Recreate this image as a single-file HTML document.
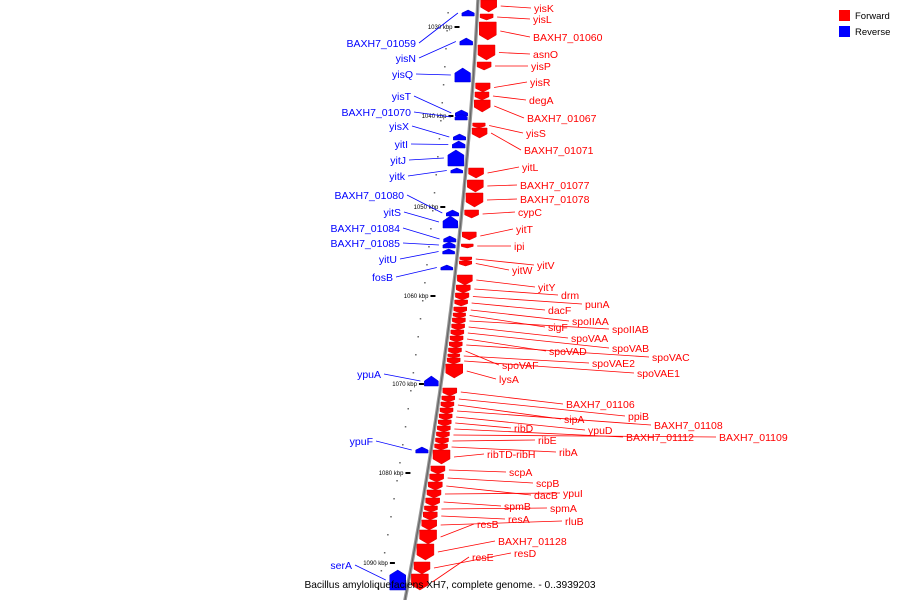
<!DOCTYPE html>
<html><head><meta charset="utf-8"><style>
html,body{margin:0;padding:0;background:#fff}
svg{display:block;font-family:"Liberation Sans","DejaVu Sans",sans-serif}
</style></head><body>
<svg id="map" width="900" height="600" viewBox="0 0 900 600">
<g id="legend">
<rect x="839" y="10" width="11" height="11" fill="#f00"/>
<text x="855" y="19" font-size="9.5" fill="#000">Forward</text>
<rect x="839" y="26" width="11" height="11" fill="#00f"/>
<text x="855" y="35" font-size="9.5" fill="#000">Reverse</text>
</g>
</svg>
<script>
// forward (red) genes
const fwdNames=["yisK","yisL","BAXH7_01060","asnO","yisP","yisR","degA","BAXH7_01067","yisS","BAXH7_01071","yitL","BAXH7_01077","BAXH7_01078","cypC","yitT","ipi","yitV","yitW","yitY","drm","punA","dacF","spoIIAA","sigF","spoIIAB","spoVAA","spoVAB","spoVAD","spoVAC","spoVAF","spoVAE2","spoVAE1","lysA","BAXH7_01106","ppiB","sipA","BAXH7_01108","ypuD","ribD","BAXH7_01112","BAXH7_01109","ribE","ribA","ribTD-ribH","scpA","scpB","dacB","ypuI","spmB","spmA","resA","rluB","resB","BAXH7_01128","resD","resE"];
const fwdStart=[0,14,22,45,62,83,92,100,123,128,168,180,193,210,232,244,257,261,275,285,293,300,307,313,318,324,330,336,342,348,354,358,364,388,396,402,408,414,420,426,432,438,444,450,466,474,482,490,498,506,512,520,530,544,562,574];
const fwdEnd=[12,20,40,60,70,92,100,112,128,138,178,192,207,218,240,248,261,266,285,293,300,306,313,318,324,330,336,342,348,354,358,364,378,396,402,408,414,420,426,432,438,444,450,464,474,482,490,498,506,512,520,530,544,560,574,590];
const fwdLabelX=[534,533,533,533,531,530,529,527,526,524,522,520,520,518,516,514,537,512,538,561,585,548,572,548,612,571,612,549,652,502,592,637,499,566,628,564,654,588,514,626,719,538,559,487,509,536,534,563,504,550,508,565,477,498,514,472];
const fwdLabelY=[8,19,37,54,66,82,100,118,133,150,167,185,199,212,229,246,265,270,287,295,304,310,321,327,329,338,348,351,357,365,363,373,379,404,416,419,425,430,428,437,437,440,452,454,472,483,495,493,506,508,519,521,524,541,553,557];
// reverse (blue) genes
const revNames=["BAXH7_01059","yisN","yisQ","yisT","BAXH7_01070","yisX","yitI","yitJ","yitk","BAXH7_01080","yitS","BAXH7_01084","BAXH7_01085","yitU","fosB","ypuA","ypuF","serA"];
const revStart=[10,38,68,110,114,134,141,150,168,210,216,236,242,249,265,376,447,570];
const revEnd=[16,45,82,116,120,140,148,166,173,216,228,242,248,254,270,386,453,590];
const revLabelX=[416,416,413,411,411,409,408,406,405,404,401,400,400,397,393,381,373,352];
const revLabelY=[43,58,74,96,112,126,144,160,176,195,212,228,243,259,277,374,441,565];
// scale ticks
const tickLabels=["1030 kbp","1040 kbp","1050 kbp","1060 kbp","1070 kbp","1080 kbp","1090 kbp"];
const tickY=[27,116,207,296,384,473,563];

const NS="http://www.w3.org/2000/svg";
const svg=document.getElementById('map');
function axisX(y){return 478-0.0517*y-0.0001167*y*y;}
function mk(t,a,p){const e=document.createElementNS(NS,t);for(const k in a)e.setAttribute(k,a[k]);(p||svg).appendChild(e);return e;}
let d="";for(let y=-5;y<=605;y+=5)d+=(d?"L":"M")+axisX(y).toFixed(1)+","+y;
const ax=mk('path',{d:d,stroke:'#999','stroke-width':3.5,fill:'none'});


const ax2=mk('path',{d:d,stroke:'#666','stroke-width':1.2,fill:'none'});


tickY.forEach((y,i)=>{
 const x=axisX(y);
 const t=mk('line',{x1:x-22,y1:y,x2:x-17,y2:y,stroke:'#000','stroke-width':2});
 
 
 const l=mk('text',{x:x-24,y:y+2,'font-size':6,'text-anchor':'end',fill:'#000'});
 l.textContent=tickLabels[i];
 
 
});
for(let y=12;y<600;y+=18){const x=axisX(y);const dd=mk('rect',{x:x-30,y:y,width:1.5,height:1.5,fill:'#666'});
 
 }
fwdNames.forEach((n,i)=>{
 const y0=fwdStart[i],y1=fwdEnd[i],ym=(y0+y1)/2,h=y1-y0,tip=Math.min(5,h*0.4);
 const x0=axisX(ym)+3,w=Math.min(17,10+h*0.5);
 const p=mk('polygon',{points:`${x0},${y0} ${x0+w},${y0} ${x0+w},${y1-tip} ${x0+w/2},${y1} ${x0},${y1-tip}`,fill:'#f00',stroke:'#d00','stroke-width':0.5});
 
 
 const ln=mk('line',{x1:x0+w+4,y1:ym,x2:fwdLabelX[i]-3,y2:fwdLabelY[i],stroke:'#f00','stroke-width':0.8});
 
 
 const t=mk('text',{x:fwdLabelX[i],y:fwdLabelY[i]+4,'font-size':10.5,fill:'#f00'});
 t.textContent=n;
 
 
});
revNames.forEach((n,i)=>{
 const y0=revStart[i],y1=revEnd[i],ym=(y0+y1)/2,h=y1-y0,tip=Math.min(5,h*0.5);
 const x1=axisX(ym)-3,w=Math.min(16,10+h*0.4),x0=x1-w;
 const p=mk('polygon',{points:`${x0},${y1} ${x0},${y0+tip} ${x0+w/2},${y0} ${x1},${y0+tip} ${x1},${y1}`,fill:'#00f',stroke:'#00c','stroke-width':0.5});
 
 
 const ln=mk('line',{x1:x0-4,y1:ym,x2:revLabelX[i]+3,y2:revLabelY[i],stroke:'#00f','stroke-width':0.8});
 
 
 const t=mk('text',{x:revLabelX[i],y:revLabelY[i]+4,'font-size':10.5,fill:'#00f','text-anchor':'end'});
 t.textContent=n;
 
 
});
const title=mk('text',{x:450,y:588,'font-size':10.2,'text-anchor':'middle',fill:'#000'});
title.textContent="Bacillus amyloliquefaciens XH7, complete genome. - 0..3939203";


</script>
</body></html>
